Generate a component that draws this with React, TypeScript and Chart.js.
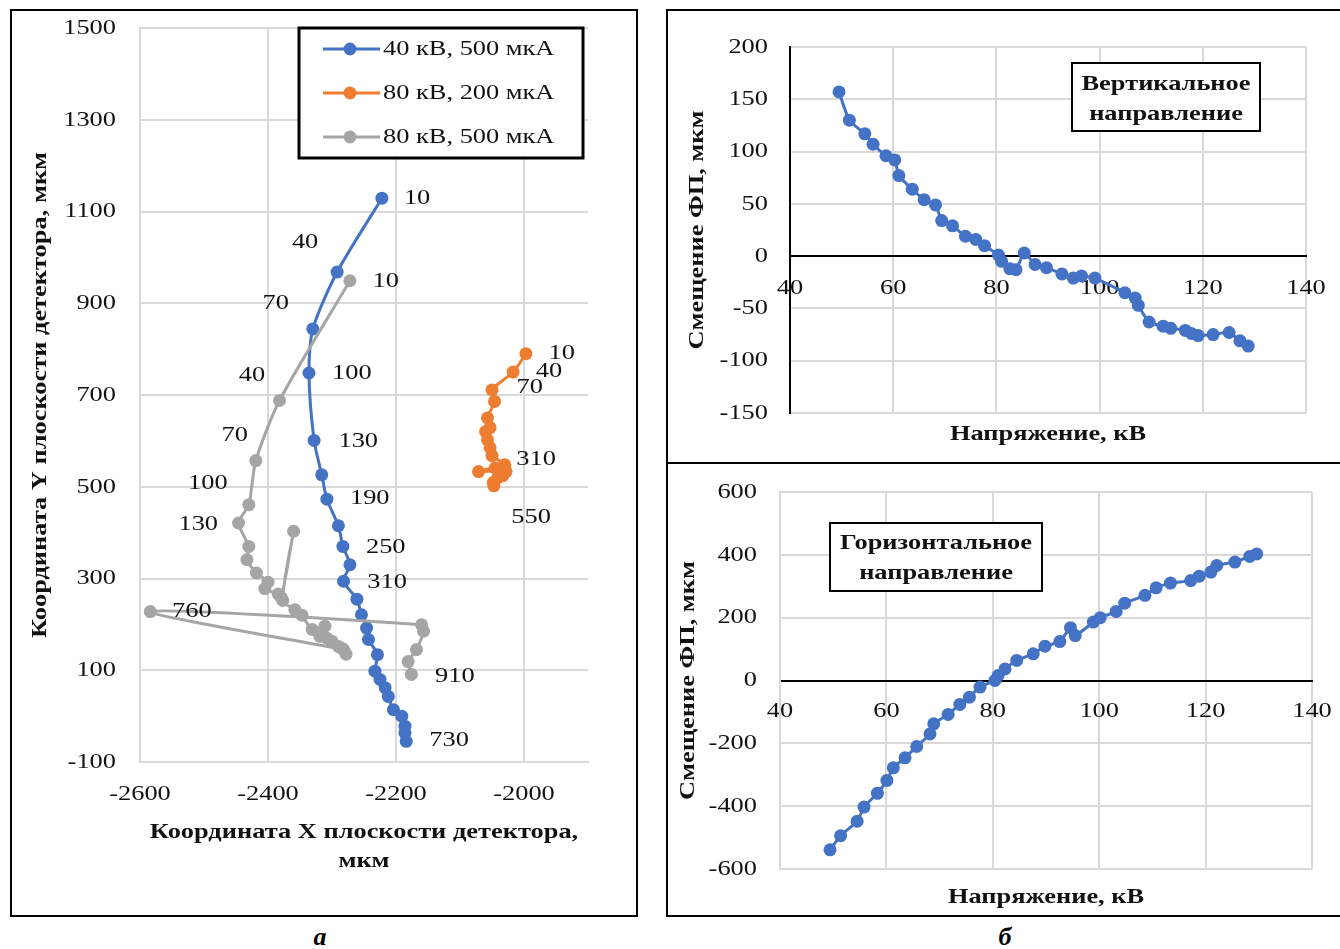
import React, { useEffect, useRef } from 'react';
import { Chart, registerables } from 'chart.js';

Chart.register(...registerables);

const SERIF = '"Liberation Serif", "Times New Roman", Times, serif';
const TEXT_STRETCH = 1.2;
const TEXT_COLOR = '#111111';
const GRID_COLOR = '#d9d9d9';
const BLUE = '#4472C4';
const ORANGE = '#ED7D31';
const GRAY = '#A5A5A5';

// ---------- Panel а: detector-plane trajectories ----------
const SERIES_NAMES = ['40 кВ, 500 мкА', '80 кВ, 200 мкА', '80 кВ, 500 мкА'];
const SERIES_COLORS = [BLUE, ORANGE, GRAY];

const BLUE_X = [-2222, -2292, -2330, -2336, -2328, -2316, -2308, -2290, -2283, -2272, -2282, -2261, -2254, -2246, -2243, -2229, -2233, -2225, -2217, -2212, -2204, -2191, -2186, -2186, -2184];
const BLUE_Y = [1129, 968, 844, 748, 601, 526, 473, 415, 370, 330, 294, 255, 221, 192, 167, 134, 98, 80, 62, 43, 14, 0, -22, -37, -55];

const ORANGE_X = [-1997, -2017, -2050, -2046, -2057, -2053, -2060, -2057, -2053, -2050, -2030, -2037, -2071, -2045, -2028, -2041, -2033, -2048, -2047];
const ORANGE_Y = [790, 750, 711, 686, 650, 629, 620, 602, 585, 568, 548, 537, 533, 541, 533, 520, 524, 509, 502];

const GRAY_X = [-2272, -2382, -2419, -2430, -2446, -2430, -2433, -2418, -2400, -2405, -2384, -2379, -2360, -2377, -2358, -2347, -2331, -2311, -2319, -2308, -2300, -2290, -2278, -2285, -2282, -2584, -2160, -2157, -2168, -2181, -2176];
const GRAY_Y = [949, 688, 557, 461, 421, 370, 341, 312, 292, 278, 266, 258, 403, 252, 232, 220, 189, 196, 174, 170, 163, 152, 135, 148, 145, 228, 199, 185, 145, 119, 91];

// point annotations (text, anchor x, anchor y in data units)
const BLUE_LABELS = ['10', '40', '70', '100', '130', '190', '250', '310', '730'];
const BLUE_LABEL_X = [-2167, -2342, -2388, -2269, -2259, -2241, -2216, -2214, -2117];
const BLUE_LABEL_Y = [1130, 1032, 901, 748, 600, 476, 369, 291, -53];

const ORANGE_LABELS = ['10', '40', '70', '310', '550'];
const ORANGE_LABEL_X = [-1941, -1961, -1991, -1981, -1989];
const ORANGE_LABEL_Y = [790, 751, 716, 561, 433];

const GRAY_LABELS = ['10', '40', '70', '100', '130', '760', '910'];
const GRAY_LABEL_X = [-2216, -2425, -2452, -2494, -2509, -2519, -2108];
const GRAY_LABEL_Y = [947, 744, 613, 507, 419, 228, 88];

const A_X_TICK_MIN = -2600;
const A_X_TICK_MAX = -1900;
const A_X_STEP = 200;
const A_Y_MIN = -100;
const A_Y_MAX = 1500;
const A_Y_STEP = 200;

// ---------- Panel б: focal-spot shift vs voltage ----------
const V_X = [49.5, 51.5, 54.5, 56.1, 58.6, 60.3, 61.1, 63.7, 66.0, 68.2, 69.4, 71.5, 74.0, 76.0, 77.7, 80.4, 81.0, 82.6, 83.8, 85.4, 87.5, 89.7, 92.7, 94.9, 96.5, 99.1, 104.9, 106.9, 107.5, 109.6, 112.3, 113.8, 116.6, 117.8, 119.1, 122.0, 125.1, 127.2, 128.8];
const V_Y = [157, 130, 117, 107, 96, 92, 77, 64, 54, 49, 34, 29, 19, 16, 10, 1, -5, -12, -13, 3, -8, -11, -17, -21, -19, -21, -35, -40, -47, -63, -67, -69, -71, -74, -76, -75, -73, -81, -86];

const H_X = [49.4, 51.4, 54.5, 55.8, 58.3, 60.1, 61.3, 63.5, 65.7, 68.2, 68.9, 71.6, 73.8, 75.6, 77.6, 80.4, 81.0, 82.3, 84.5, 87.6, 89.8, 92.6, 94.6, 95.5, 98.9, 100.2, 103.2, 104.8, 108.6, 110.7, 113.4, 117.2, 118.8, 121.0, 122.1, 125.5, 128.3, 129.6];
const H_Y = [-539, -494, -448, -403, -359, -318, -278, -246, -210, -170, -138, -108, -76, -53, -21, 0, 16, 37, 64, 85, 109, 124, 168, 143, 186, 200, 220, 246, 271, 295, 310, 318, 332, 345, 366, 377, 395, 403];

const VOLT_MIN = 40;
const VOLT_MAX = 140;
const VOLT_STEP = 20;
const V_MIN = -150;
const V_MAX = 200;
const V_STEP = 50;
const H_MIN = -600;
const H_MAX = 600;
const H_STEP = 200;

const Y_TITLE_B = 'Смещение ФП, мкм';
const X_TITLE_B = 'Напряжение, кВ';
const NOTE_V = ['Вертикальное', 'направление'];
const NOTE_H = ['Горизонтальное', 'направление'];

// ---------- helpers ----------
function patchTextStretch(ctx: any, k: number) {
  if (!ctx || ctx.__stretch) return;
  const orig = ctx.fillText;
  ctx.fillText = function (text: string, x: number, y: number, maxWidth?: number) {
    this.save();
    this.translate(x, y);
    this.scale(k, 1);
    if (typeof maxWidth === 'number' && isFinite(maxWidth)) orig.call(this, text, 0, 0, maxWidth / k);
    else orig.call(this, text, 0, 0);
    this.restore();
  };
  ctx.__stretch = true;
}

const pts = (xs: number[], ys: number[]) => xs.map((x, i) => ({ x, y: ys[i] }));
const tickFont = { family: SERIF, size: 22 };
const titleFont = { family: SERIF, size: 22, weight: 'bold' as const };

const pointLabelsPlugin = {
  id: 'pointLabels',
  afterDatasetsDraw(chart: any) {
    const { ctx, scales } = chart;
    const groups: [string[], number[], number[]][] = [
      [BLUE_LABELS, BLUE_LABEL_X, BLUE_LABEL_Y],
      [ORANGE_LABELS, ORANGE_LABEL_X, ORANGE_LABEL_Y],
      [GRAY_LABELS, GRAY_LABEL_X, GRAY_LABEL_Y],
    ];
    ctx.save();
    ctx.font = `22px ${SERIF}`;
    ctx.fillStyle = TEXT_COLOR;
    ctx.textAlign = 'center';
    ctx.textBaseline = 'middle';
    for (const [texts, xs, ys] of groups) {
      texts.forEach((t, i) => {
        ctx.fillText(t, scales.x.getPixelForValue(xs[i]), scales.y.getPixelForValue(ys[i]));
      });
    }
    ctx.restore();
  },
};

const boxLegendPlugin = {
  id: 'boxLegend',
  afterDraw(chart: any) {
    const { ctx, chartArea } = chart;
    const bx = chartArea.left + 159;
    const by = chartArea.top;
    const bw = 284;
    const bh = 130;
    ctx.save();
    ctx.fillStyle = '#ffffff';
    ctx.fillRect(bx, by, bw, bh);
    ctx.lineWidth = 3;
    ctx.strokeStyle = '#000000';
    ctx.strokeRect(bx, by, bw, bh);
    SERIES_NAMES.forEach((name, i) => {
      const cy = by + 21 + i * 44;
      ctx.strokeStyle = SERIES_COLORS[i];
      ctx.lineWidth = 3;
      ctx.beginPath();
      ctx.moveTo(bx + 24, cy);
      ctx.lineTo(bx + 81, cy);
      ctx.stroke();
      ctx.fillStyle = SERIES_COLORS[i];
      ctx.beginPath();
      ctx.arc(bx + 51, cy, 6.5, 0, Math.PI * 2);
      ctx.fill();
      ctx.fillStyle = TEXT_COLOR;
      ctx.font = `22px ${SERIF}`;
      ctx.textAlign = 'left';
      ctx.textBaseline = 'middle';
      ctx.fillText(name, bx + 84, cy);
    });
    ctx.restore();
  },
};

function makeNotePlugin(lines: string[], dx: number, dy: number, w: number, h: number, l1: number, l2: number) {
  return {
    id: 'noteBox',
    afterDraw(chart: any) {
      const { ctx, chartArea } = chart;
      const bx = chartArea.left + dx;
      const by = chartArea.top + dy;
      ctx.save();
      ctx.fillStyle = '#ffffff';
      ctx.fillRect(bx, by, w, h);
      ctx.lineWidth = 2;
      ctx.strokeStyle = '#000000';
      ctx.strokeRect(bx, by, w, h);
      ctx.fillStyle = TEXT_COLOR;
      ctx.font = `bold 22px ${SERIF}`;
      ctx.textAlign = 'center';
      ctx.textBaseline = 'middle';
      ctx.fillText(lines[0], bx + w / 2, by + l1);
      ctx.fillText(lines[1], bx + w / 2, by + l2);
      ctx.restore();
    },
  };
}

function makeXTitlePlugin(text: string, dy: number) {
  return {
    id: 'xTitle',
    afterDraw(chart: any) {
      const { ctx, chartArea } = chart;
      ctx.save();
      ctx.fillStyle = TEXT_COLOR;
      ctx.font = `bold 22px ${SERIF}`;
      ctx.textAlign = 'center';
      ctx.textBaseline = 'middle';
      ctx.fillText(text, (chartArea.left + chartArea.right) / 2, chartArea.bottom + dy);
      ctx.restore();
    },
  };
}

function buildLeft(): any {
  const ds = (i: number, xs: number[], ys: number[], order: number) => ({
    label: SERIES_NAMES[i],
    data: pts(xs, ys),
    showLine: true,
    borderColor: SERIES_COLORS[i],
    backgroundColor: SERIES_COLORS[i],
    borderWidth: 3,
    pointRadius: 6.5,
    pointBorderWidth: 0,
    tension: 0.25,
    order,
  });
  return {
    type: 'scatter',
    data: {
      datasets: [ds(0, BLUE_X, BLUE_Y, 2), ds(1, ORANGE_X, ORANGE_Y, 1), ds(2, GRAY_X, GRAY_Y, 0)],
    },
    options: {
      responsive: false,
      animation: false,
      layout: { padding: { left: 0, top: 16, right: 47, bottom: 0 } },
      plugins: { legend: { display: false }, tooltip: { enabled: false } },
      scales: {
        x: {
          type: 'linear',
          min: A_X_TICK_MIN,
          max: A_X_TICK_MAX,
          ticks: {
            stepSize: A_X_STEP,
            includeBounds: false,
            padding: 19,
            color: TEXT_COLOR,
            font: tickFont,
            maxRotation: 0,
            autoSkip: false,
            callback: (v: any) => String(v),
          },
          grid: { color: GRID_COLOR, lineWidth: 2, drawTicks: false },
          border: { color: GRID_COLOR, width: 2 },
          title: {
            display: true,
            text: ['Координата X плоскости детектора,', 'мкм'],
            color: TEXT_COLOR,
            font: { ...titleFont, lineHeight: 29 / 22 },
            padding: { top: 0, bottom: 38.5 },
          },
          afterFit: (s: any) => { s.height = 152; s.paddingLeft = 0; s.paddingRight = 0; },
        },
        y: {
          type: 'linear',
          min: A_Y_MIN,
          max: A_Y_MAX,
          ticks: {
            stepSize: A_Y_STEP,
            padding: 24,
            color: TEXT_COLOR,
            font: tickFont,
            callback: (v: any) => String(v),
          },
          grid: { color: GRID_COLOR, lineWidth: 2, drawTicks: false },
          border: { color: GRID_COLOR, width: 2 },
          title: {
            display: true,
            text: 'Координата Y плоскости детектора, мкм',
            color: TEXT_COLOR,
            font: titleFont,
            padding: { top: 14.8, bottom: 0 },
          },
          afterFit: (s: any) => { s.width = 128; s.paddingTop = 0; s.paddingBottom = 0; },
        },
      },
    },
    plugins: [pointLabelsPlugin, boxLegendPlugin],
  };
}

function buildRight(
  xs: number[], ys: number[], yMin: number, yMax: number, yStep: number,
  pad: { top: number; right: number; bottom: number }, yWidth: number,
  yTitlePad: number, yTickPad: number, xTickPad: number, yBorder: string,
  note: any, xTitle: any,
): any {
  return {
    type: 'scatter',
    data: {
      datasets: [{
        label: Y_TITLE_B,
        data: pts(xs, ys),
        showLine: true,
        borderColor: BLUE,
        backgroundColor: BLUE,
        borderWidth: 3,
        pointRadius: 6.5,
        pointBorderWidth: 0,
        tension: 0.2,
      }],
    },
    options: {
      responsive: false,
      animation: false,
      layout: { padding: { left: 0, top: pad.top, right: pad.right, bottom: pad.bottom } },
      plugins: { legend: { display: false }, tooltip: { enabled: false } },
      scales: {
        x: {
          type: 'linear',
          axis: 'x',
          position: { y: 0 },
          min: VOLT_MIN,
          max: VOLT_MAX,
          ticks: {
            stepSize: VOLT_STEP,
            padding: xTickPad,
            color: TEXT_COLOR,
            font: tickFont,
            maxRotation: 0,
            autoSkip: false,
            callback: (v: any) => String(v),
          },
          grid: {
            color: (c: any) => (c.tick && c.tick.value === VOLT_MIN ? yBorder : GRID_COLOR),
            lineWidth: 2,
            drawTicks: false,
          },
          border: { color: '#000000', width: 2 },
          afterFit: (s: any) => { s.height = 0; s.paddingLeft = 0; s.paddingRight = 0; },
        },
        y: {
          type: 'linear',
          min: yMin,
          max: yMax,
          ticks: {
            stepSize: yStep,
            padding: yTickPad,
            color: TEXT_COLOR,
            font: tickFont,
            callback: (v: any) => String(v),
          },
          grid: {
            color: (c: any) => (c.tick && c.tick.value === 0 ? '#000000' : GRID_COLOR),
            lineWidth: 2,
            drawTicks: false,
          },
          border: { color: yBorder, width: 2 },
          title: {
            display: true,
            text: Y_TITLE_B,
            color: TEXT_COLOR,
            font: titleFont,
            padding: { top: yTitlePad, bottom: 0 },
          },
          afterFit: (s: any) => { s.width = yWidth; s.paddingTop = 0; s.paddingBottom = 0; },
        },
      },
    },
    plugins: [note, xTitle],
  };
}

function ChartCanvas(props: { left: number; top: number; width: number; height: number; build: () => any }) {
  const ref = useRef<HTMLCanvasElement>(null);
  useEffect(() => {
    const canvas = ref.current!;
    const ctx = canvas.getContext('2d');
    patchTextStretch(ctx, TEXT_STRETCH);
    const chart = new Chart(ctx as any, props.build());
    return () => chart.destroy();
  }, []);
  return (
    <canvas
      ref={ref}
      width={props.width}
      height={props.height}
      style={{ position: 'absolute', left: props.left, top: props.top, width: props.width, height: props.height }}
    />
  );
}

export default function App() {
  return (
    <div style={{ position: 'absolute', left: 0, top: 0, width: 1340, height: 949, background: '#ffffff', overflow: 'hidden' }}>
      <div style={{ position: 'absolute', left: 10, top: 9, width: 628, height: 908, border: '2px solid #000', boxSizing: 'border-box' }} />
      <div style={{ position: 'absolute', left: 666, top: 9, width: 676, height: 908, border: '2px solid #000', boxSizing: 'border-box' }} />
      <div style={{ position: 'absolute', left: 666, top: 462, width: 676, height: 2, background: '#000' }} />
      <ChartCanvas left={12} top={12} width={623} height={902} build={buildLeft} />
      <ChartCanvas
        left={669}
        top={12}
        width={669}
        height={449}
        build={() => buildRight(V_X, V_Y, V_MIN, V_MAX, V_STEP, { top: 35, right: 32, bottom: 48 }, 121, 14.8, 22, 18.8, '#000000',
          makeNotePlugin(NOTE_V, 282, 16, 188, 68, 21, 51), makeXTitlePlugin(X_TITLE_B, 21))}
      />
      <ChartCanvas
        left={669}
        top={465}
        width={669}
        height={449}
        build={() => buildRight(H_X, H_Y, H_MIN, H_MAX, H_STEP, { top: 27, right: 26, bottom: 45 }, 111, 5.8, 23, 17.8, GRID_COLOR,
          makeNotePlugin(NOTE_H, 50, 31, 212, 68, 20, 50), makeXTitlePlugin(X_TITLE_B, 28))}
      />
      <div style={{ position: 'absolute', left: 300, top: 922, width: 40, textAlign: 'center', font: `italic bold 26px ${SERIF}`, color: '#000' }}>а</div>
      <div style={{ position: 'absolute', left: 985, top: 922, width: 40, textAlign: 'center', font: `italic bold 26px ${SERIF}`, color: '#000' }}>б</div>
    </div>
  );
}
